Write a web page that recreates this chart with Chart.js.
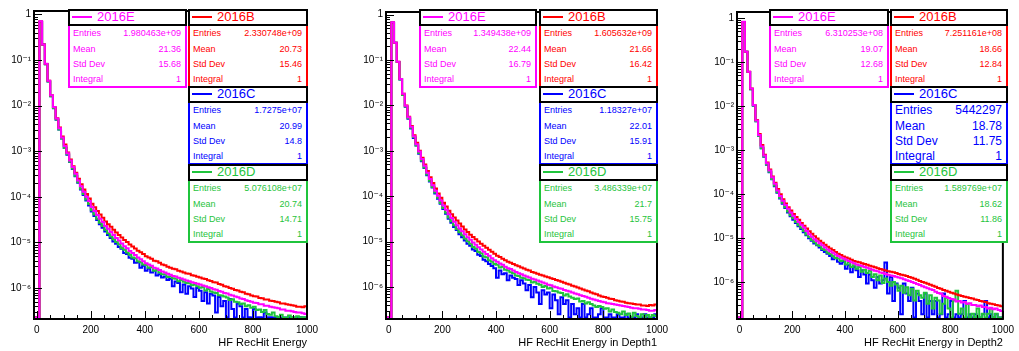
<!DOCTYPE html>
<html>
<head>
<meta charset="utf-8">
<script src="https://cdn.jsdelivr.net/npm/chart.js@4.4.1/dist/chart.umd.min.js"></script>
<style>
  html, body { margin: 0; padding: 0; background: #fff; }
  #wrap { position: relative; width: 1019px; height: 351px; overflow: hidden; font-family: "Liberation Sans", Arial, sans-serif; }
  canvas { position: absolute; top: 0; }
  .hdr, .st { position: absolute; box-sizing: border-box; background: #fff; border: 2px solid #000; }
  .hdr { z-index: 3; }
  .st { z-index: 2; }
  .hdr i { position: absolute; left: 2px; top: 5px; width: 20px; height: 2px; }
  .hdr span { position: absolute; left: 27px; top: -1px; font-size: 13px; line-height: 13px; }
  .row { position: absolute; left: 3px; right: 4px; height: 15.3px; line-height: 15.3px; font-size: 9px; white-space: nowrap; }
  .row b { float: right; font-weight: normal; }
</style>
</head>
<body>
<div id="wrap">
  <canvas id="c1" width="345" height="351" style="left:0px"></canvas>
  <canvas id="c2" width="345" height="351" style="left:345px"></canvas>
  <canvas id="c3" width="329" height="351" style="left:690px"></canvas>
</div>
<script>
// histogram binning: 101 bins of 10 from -10 to 1000
const xMin = -10, xMax = 1000, binWidth = 10;
const xTicks = [0, 200, 400, 600, 800, 1000];

// ---- HF RecHit Energy ----
const p1E = [0, 0, 0.71, 0.22, 0.083, 0.035, 0.017, 0.0093, 0.0052, 0.0032,
  0.002, 0.0013, 9.1e-4, 6.3e-4, 4.5e-4, 3.2e-4, 2.3e-4, 1.7e-4, 1.3e-4, 1.0e-4,
  8.1e-5, 6.0e-5, 4.9e-5, 4.0e-5, 3.3e-5, 2.8e-5, 2.3e-5, 2.0e-5, 1.7e-5, 1.45e-5,
  1.26e-5, 1.1e-5, 9.5e-6, 8.3e-6, 7.5e-6, 6.5e-6, 5.9e-6, 5.3e-6, 4.7e-6, 4.3e-6,
  3.9e-6, 3.5e-6, 3.3e-6, 3.1e-6, 2.8e-6, 2.7e-6, 2.5e-6, 2.3e-6, 2.2e-6, 2.05e-6,
  1.95e-6, 1.85e-6, 1.8e-6, 1.68e-6, 1.62e-6, 1.55e-6, 1.46e-6, 1.42e-6, 1.34e-6, 1.3e-6,
  1.24e-6, 1.2e-6, 1.14e-6, 1.1e-6, 1.04e-6, 1.0e-6, 9.4e-7, 9.2e-7, 8.6e-7, 8.3e-7,
  7.8e-7, 7.6e-7, 7.1e-7, 6.9e-7, 6.5e-7, 6.3e-7, 5.9e-7, 5.8e-7, 5.4e-7, 5.2e-7,
  5.0e-7, 4.8e-7, 4.7e-7, 4.4e-7, 4.4e-7, 4.1e-7, 4.1e-7, 3.9e-7, 3.8e-7, 3.7e-7,
  3.6e-7, 3.4e-7, 3.4e-7, 3.2e-7, 3.2e-7, 3.1e-7, 3.0e-7, 2.9e-7, 2.9e-7, 2.8e-7,
  2.7e-7];
const p1B = [0, 0, 0.70, 0.22, 0.082, 0.035, 0.017, 0.0094, 0.0053, 0.0033,
  0.0021, 0.0014, 9.4e-4, 6.6e-4, 4.7e-4, 3.4e-4, 2.5e-4, 1.9e-4, 1.45e-4, 1.15e-4,
  9.2e-5, 7.1e-5, 5.9e-5, 4.9e-5, 4.1e-5, 3.5e-5, 2.9e-5, 2.5e-5, 2.2e-5, 1.9e-5,
  1.65e-5, 1.45e-5, 1.28e-5, 1.13e-5, 1.02e-5, 9.0e-6, 8.2e-6, 7.4e-6, 6.6e-6, 6.1e-6,
  5.6e-6, 5.0e-6, 4.7e-6, 4.4e-6, 4.0e-6, 3.9e-6, 3.6e-6, 3.3e-6, 3.15e-6, 2.95e-6,
  2.8e-6, 2.65e-6, 2.6e-6, 2.4e-6, 2.3e-6, 2.2e-6, 2.1e-6, 2.05e-6, 1.92e-6, 1.86e-6,
  1.78e-6, 1.7e-6, 1.62e-6, 1.58e-6, 1.48e-6, 1.43e-6, 1.35e-6, 1.32e-6, 1.23e-6, 1.19e-6,
  1.1e-6, 1.07e-6, 1.0e-6, 9.7e-7, 9.1e-7, 8.8e-7, 8.3e-7, 8.1e-7, 7.5e-7, 7.3e-7,
  6.9e-7, 6.6e-7, 6.5e-7, 6.1e-7, 6.0e-7, 5.6e-7, 5.6e-7, 5.3e-7, 5.2e-7, 5.0e-7,
  4.9e-7, 4.6e-7, 4.6e-7, 4.4e-7, 4.3e-7, 4.2e-7, 4.1e-7, 3.9e-7, 3.9e-7, 3.8e-7,
  4.0e-7];
const p1C = [0, 0, 0.69, 0.22, 0.081, 0.034, 0.016, 0.0088, 0.0049, 0.003,
  0.0019, 0.0012, 8.4e-4, 5.8e-4, 4.1e-4, 2.85e-4, 2.05e-4, 1.45e-4, 1.1e-4, 8.3e-5,
  6.5e-5, 4.8e-5, 3.8e-5, 3.1e-5, 2.5e-5, 2.1e-5, 1.75e-5, 1.45e-5, 1.25e-5, 1.05e-5,
  9.4e-6, 8.0e-6, 7.3e-6, 5.9e-6, 5.6e-6, 4.6e-6, 4.4e-6, 3.6e-6, 3.7e-6, 2.8e-6,
  3.1e-6, 2.4e-6, 2.7e-6, 2.2e-6, 2.4e-6, 1.9e-6, 2.0e-6, 1.7e-6, 1.8e-6, 1.5e-6,
  1.6e-6, 1.1e-6, 1.4e-6, 1.3e-6, 8.1e-7, 1.2e-6, 7.5e-7, 1.1e-6, 9.8e-7, 6.4e-7,
  1.0e-6, 8.7e-7, 5.2e-7, 8.1e-7, 4.6e-7, 7.5e-7, 6.9e-7, 2.9e-7, 6.4e-7, 4.0e-7,
  5.2e-7, 2.3e-7, 5.8e-7, 3.5e-7, 1.7e-7, 4.6e-7, 4.0e-7, 1.2e-7, 3.5e-7, 2.3e-7,
  1.2e-7, 3.5e-7, 1.7e-7, 2.3e-7, 5.8e-8, 2.9e-7, 1.7e-7, 2.3e-7, 1.2e-7, 1.7e-7,
  2.3e-7, 5.8e-8, 1.7e-7, 1.2e-7, 2.3e-7, 1.2e-7, 5.8e-8, 1.7e-7, 2.3e-7, 1.2e-7,
  1.7e-7];
const p1D = [0, 0, 0.69, 0.22, 0.081, 0.034, 0.016, 0.0089, 0.005, 0.003,
  0.0019, 0.0012, 8.6e-4, 5.9e-4, 4.2e-4, 2.9e-4, 2.1e-4, 1.5e-4, 1.15e-4, 8.8e-5,
  7.0e-5, 5.1e-5, 4.1e-5, 3.3e-5, 2.7e-5, 2.3e-5, 1.9e-5, 1.6e-5, 1.35e-5, 1.17e-5,
  1.02e-5, 9.2e-6, 7.6e-6, 6.9e-6, 6.0e-6, 5.4e-6, 4.7e-6, 4.5e-6, 3.9e-6, 3.7e-6,
  3.3e-6, 3.2e-6, 2.8e-6, 2.9e-6, 2.4e-6, 2.5e-6, 2.2e-6, 2.0e-6, 2.0e-6, 1.75e-6,
  1.8e-6, 1.65e-6, 1.6e-6, 1.42e-6, 1.5e-6, 1.38e-6, 1.3e-6, 1.28e-6, 1.15e-6, 1.2e-6,
  1.1e-6, 1.02e-6, 1.05e-6, 8.8e-7, 9.6e-7, 8.4e-7, 8.0e-7, 7.8e-7, 7.0e-7, 6.9e-7,
  6.5e-7, 6.2e-7, 5.5e-7, 5.7e-7, 5.0e-7, 4.9e-7, 4.4e-7, 4.6e-7, 4.0e-7, 4.2e-7,
  3.7e-7, 3.9e-7, 3.3e-7, 3.4e-7, 3.0e-7, 3.3e-7, 2.7e-7, 2.6e-7, 2.9e-7, 2.4e-7,
  2.3e-7, 2.6e-7, 2.2e-7, 2.1e-7, 2.5e-7, 2.3e-7, 2.0e-7, 2.4e-7, 2.2e-7, 2.3e-7,
  2.2e-7];

// ---- HF RecHit Energy in Depth1 ----
const p2E = [0, 0, 0.68, 0.24, 0.092, 0.038, 0.018, 0.0098, 0.0055, 0.0034,
  0.0021, 0.0014, 9.6e-4, 6.6e-4, 4.7e-4, 3.3e-4, 2.4e-4, 1.75e-4, 1.32e-4, 1.02e-4,
  8.0e-5, 6.2e-5, 5.0e-5, 4.0e-5, 3.3e-5, 2.75e-5, 2.3e-5, 1.95e-5, 1.68e-5, 1.45e-5,
  1.25e-5, 1.1e-5, 9.6e-6, 8.5e-6, 7.5e-6, 6.7e-6, 6.0e-6, 5.3e-6, 4.9e-6, 4.3e-6,
  3.9e-6, 3.6e-6, 3.3e-6, 3.1e-6, 2.8e-6, 2.6e-6, 2.5e-6, 2.3e-6, 2.15e-6, 2.0e-6,
  1.9e-6, 1.8e-6, 1.7e-6, 1.62e-6, 1.52e-6, 1.46e-6, 1.38e-6, 1.32e-6, 1.25e-6, 1.2e-6,
  1.12e-6, 1.09e-6, 1.03e-6, 9.9e-7, 9.4e-7, 9.1e-7, 8.6e-7, 8.3e-7, 7.9e-7, 7.6e-7,
  7.2e-7, 6.9e-7, 6.6e-7, 6.3e-7, 6.1e-7, 5.8e-7, 5.5e-7, 5.3e-7, 5.1e-7, 4.9e-7,
  4.7e-7, 4.6e-7, 4.4e-7, 4.3e-7, 4.2e-7, 4.1e-7, 4.0e-7, 3.9e-7, 3.8e-7, 3.7e-7,
  3.6e-7, 3.5e-7, 3.4e-7, 3.4e-7, 3.3e-7, 3.2e-7, 3.2e-7, 3.1e-7, 3.0e-7, 3.0e-7,
  3.1e-7];
const p2B = [0, 0, 0.67, 0.24, 0.091, 0.038, 0.018, 0.0099, 0.0056, 0.0035,
  0.0022, 0.0015, 0.001, 7.0e-4, 5.0e-4, 3.6e-4, 2.6e-4, 1.95e-4, 1.48e-4, 1.15e-4,
  9.2e-5, 7.2e-5, 5.9e-5, 4.8e-5, 4.0e-5, 3.4e-5, 2.9e-5, 2.5e-5, 2.15e-5, 1.85e-5,
  1.62e-5, 1.42e-5, 1.26e-5, 1.12e-5, 1.0e-5, 9.0e-6, 8.1e-6, 7.3e-6, 6.6e-6, 6.0e-6,
  5.4e-6, 4.9e-6, 4.6e-6, 4.2e-6, 3.9e-6, 3.6e-6, 3.4e-6, 3.2e-6, 3.0e-6, 2.85e-6,
  2.7e-6, 2.55e-6, 2.4e-6, 2.3e-6, 2.15e-6, 2.05e-6, 1.95e-6, 1.85e-6, 1.78e-6, 1.7e-6,
  1.64e-6, 1.56e-6, 1.5e-6, 1.42e-6, 1.37e-6, 1.3e-6, 1.24e-6, 1.18e-6, 1.13e-6, 1.07e-6,
  1.02e-6, 9.7e-7, 9.3e-7, 8.8e-7, 8.4e-7, 8.0e-7, 7.6e-7, 7.2e-7, 6.9e-7, 6.5e-7,
  6.2e-7, 6.0e-7, 5.8e-7, 5.5e-7, 5.4e-7, 5.1e-7, 5.0e-7, 4.8e-7, 4.7e-7, 4.5e-7,
  4.4e-7, 4.3e-7, 4.2e-7, 4.1e-7, 4.1e-7, 3.9e-7, 3.9e-7, 3.8e-7, 4.0e-7, 3.9e-7,
  4.1e-7];
const p2C = [0, 0, 0.67, 0.24, 0.09, 0.037, 0.017, 0.0093, 0.0051, 0.0031,
  0.0019, 0.0013, 8.6e-4, 5.9e-4, 4.2e-4, 2.9e-4, 2.1e-4, 1.55e-4, 1.15e-4, 8.8e-5,
  6.8e-5, 5.2e-5, 4.1e-5, 3.2e-5, 2.6e-5, 2.1e-5, 1.8e-5, 1.45e-5, 1.25e-5, 1.05e-5,
  9.0e-6, 8.1e-6, 6.7e-6, 6.2e-6, 5.1e-6, 4.8e-6, 4.0e-6, 3.7e-6, 3.2e-6, 2.9e-6,
  2.6e-6, 1.6e-6, 2.3e-6, 1.9e-6, 2.0e-6, 1.4e-6, 1.8e-6, 1.6e-6, 1.5e-6, 1.1e-6,
  1.4e-6, 1.2e-6, 8.5e-7, 1.1e-6, 5.9e-7, 1.0e-6, 7.6e-7, 4.2e-7, 8.5e-7, 6.8e-7,
  7.6e-7, 3.4e-7, 6.8e-7, 5.1e-7, 2.5e-7, 5.9e-7, 4.2e-7, 5.1e-7, 1.7e-7, 4.2e-7,
  2.5e-7, 3.4e-7, 1.7e-7, 4.2e-7, 8.5e-8, 2.5e-7, 3.4e-7, 1.7e-7, 0, 2.5e-7,
  3.4e-7, 8.5e-8, 1.7e-7, 2.5e-7, 0, 1.7e-7, 2.5e-7, 8.5e-8, 1.7e-7, 2.5e-7,
  8.5e-8, 1.7e-7, 0, 2.5e-7, 1.7e-7, 8.5e-8, 2.5e-7, 1.7e-7, 0, 1.7e-7,
  2.5e-7];
const p2D = [0, 0, 0.67, 0.24, 0.09, 0.037, 0.017, 0.0094, 0.0052, 0.0032,
  0.002, 0.0013, 8.9e-4, 6.1e-4, 4.3e-4, 3.0e-4, 2.2e-4, 1.6e-4, 1.2e-4, 9.2e-5,
  7.1e-5, 5.5e-5, 4.3e-5, 3.4e-5, 2.8e-5, 2.3e-5, 1.9e-5, 1.6e-5, 1.38e-5, 1.17e-5,
  1.02e-5, 9.0e-6, 7.6e-6, 7.0e-6, 5.9e-6, 5.5e-6, 4.7e-6, 4.5e-6, 3.9e-6, 3.6e-6,
  3.2e-6, 3.1e-6, 2.7e-6, 2.8e-6, 2.4e-6, 2.3e-6, 2.1e-6, 2.0e-6, 1.8e-6, 1.75e-6,
  1.6e-6, 1.55e-6, 1.45e-6, 1.42e-6, 1.25e-6, 1.3e-6, 1.18e-6, 1.12e-6, 1.0e-6, 1.05e-6,
  9.3e-7, 9.6e-7, 8.2e-7, 8.0e-7, 7.6e-7, 7.4e-7, 6.5e-7, 6.9e-7, 6.2e-7, 5.8e-7,
  5.4e-7, 5.6e-7, 4.8e-7, 4.9e-7, 4.3e-7, 4.6e-7, 4.2e-7, 3.9e-7, 3.6e-7, 3.8e-7,
  3.6e-7, 3.3e-7, 3.4e-7, 2.9e-7, 3.2e-7, 2.8e-7, 2.7e-7, 2.5e-7, 2.9e-7, 2.4e-7,
  2.6e-7, 2.2e-7, 2.7e-7, 2.3e-7, 2.0e-7, 2.5e-7, 2.2e-7, 2.4e-7, 2.1e-7, 2.4e-7,
  2.3e-7];

// ---- HF RecHit Energy in Depth2 ----
const p3E = [0, 0, 0.82, 0.17, 0.06, 0.025, 0.0105, 0.0047, 0.0022, 0.0012,
  7.5e-4, 5.0e-4, 3.4e-4, 2.4e-4, 1.7e-4, 1.2e-4, 9.0e-5, 7.0e-5, 5.6e-5, 4.6e-5,
  3.8e-5, 3.2e-5, 2.7e-5, 2.3e-5, 2.0e-5, 1.72e-5, 1.45e-5, 1.22e-5, 1.06e-5, 9.3e-6,
  8.4e-6, 7.6e-6, 6.8e-6, 6.1e-6, 5.5e-6, 5.0e-6, 4.6e-6, 4.2e-6, 3.9e-6, 3.6e-6,
  3.4e-6, 3.2e-6, 3.0e-6, 2.8e-6, 2.65e-6, 2.5e-6, 2.4e-6, 2.3e-6, 2.2e-6, 2.1e-6,
  2.0e-6, 1.9e-6, 1.8e-6, 1.75e-6, 1.65e-6, 1.6e-6, 1.52e-6, 1.45e-6, 1.4e-6, 1.36e-6,
  1.32e-6, 1.27e-6, 1.22e-6, 1.16e-6, 1.1e-6, 1.05e-6, 1.0e-6, 9.5e-7, 9.0e-7, 8.5e-7,
  8.0e-7, 7.6e-7, 7.2e-7, 6.8e-7, 6.6e-7, 6.0e-7, 5.6e-7, 5.4e-7, 4.8e-7, 4.6e-7,
  4.3e-7, 4.1e-7, 4.0e-7, 3.6e-7, 3.7e-7, 3.4e-7, 3.5e-7, 3.2e-7, 3.3e-7, 3.0e-7,
  3.0e-7, 2.8e-7, 2.9e-7, 2.7e-7, 2.7e-7, 2.5e-7, 2.6e-7, 2.4e-7, 2.5e-7, 2.3e-7,
  2.2e-7];
const p3B = [0, 0, 0.81, 0.17, 0.06, 0.025, 0.0106, 0.0048, 0.0023, 0.0013,
  7.8e-4, 5.2e-4, 3.6e-4, 2.5e-4, 1.8e-4, 1.3e-4, 9.8e-5, 7.6e-5, 6.1e-5, 5.0e-5,
  4.2e-5, 3.5e-5, 3.0e-5, 2.6e-5, 2.2e-5, 1.9e-5, 1.65e-5, 1.43e-5, 1.25e-5, 1.1e-5,
  9.7e-6, 8.7e-6, 7.8e-6, 7.0e-6, 6.3e-6, 5.8e-6, 5.3e-6, 4.8e-6, 4.4e-6, 4.1e-6,
  3.8e-6, 3.6e-6, 3.4e-6, 3.2e-6, 3.0e-6, 2.9e-6, 2.8e-6, 2.65e-6, 2.55e-6, 2.45e-6,
  2.35e-6, 2.25e-6, 2.15e-6, 2.05e-6, 1.98e-6, 1.9e-6, 1.82e-6, 1.75e-6, 1.7e-6, 1.66e-6,
  1.6e-6, 1.52e-6, 1.46e-6, 1.42e-6, 1.36e-6, 1.3e-6, 1.24e-6, 1.18e-6, 1.12e-6, 1.05e-6,
  1.0e-6, 9.6e-7, 9.1e-7, 8.6e-7, 8.2e-7, 7.8e-7, 7.3e-7, 7.0e-7, 6.6e-7, 6.3e-7,
  6.0e-7, 5.7e-7, 5.5e-7, 5.2e-7, 5.0e-7, 4.8e-7, 4.6e-7, 4.5e-7, 4.3e-7, 4.2e-7,
  4.0e-7, 3.9e-7, 3.7e-7, 3.6e-7, 3.5e-7, 3.3e-7, 3.2e-7, 3.1e-7, 3.0e-7, 2.9e-7,
  2.8e-7];
const p3C = [0, 0, 0.81, 0.17, 0.059, 0.024, 0.0101, 0.0045, 0.0021, 0.0011,
  7.0e-4, 4.6e-4, 3.1e-4, 2.15e-4, 1.5e-4, 1.07e-4, 7.9e-5, 6.0e-5, 4.8e-5, 3.8e-5,
  3.1e-5, 2.6e-5, 2.2e-5, 1.85e-5, 1.6e-5, 1.35e-5, 1.15e-5, 9.9e-6, 8.6e-6, 7.5e-6,
  6.8e-6, 6.1e-6, 5.3e-6, 4.8e-6, 4.4e-6, 3.9e-6, 3.3e-6, 3.5e-6, 2.9e-6, 2.6e-6,
  2.9e-6, 2.0e-6, 2.4e-6, 1.66e-6, 2.2e-6, 1.84e-6, 1.29e-6, 1.84e-6, 1.47e-6, 9.2e-7,
  1.47e-6, 1.1e-6, 7.4e-7, 1.29e-6, 9.2e-7, 1.1e-6, 2.76e-6, 5.5e-7, 1.29e-6, 3.7e-7,
  9.2e-7, 7.4e-7, 1.84e-7, 9.2e-7, 5.5e-7, 3.7e-7, 7.4e-7, 0, 5.5e-7, 3.7e-7,
  1.84e-7, 5.5e-7, 0, 3.7e-7, 1.84e-7, 3.7e-7, 0, 1.84e-7, 5.5e-7, 0,
  1.84e-7, 3.7e-7, 0, 1.84e-7, 0, 1.84e-7, 3.7e-7, 0, 1.84e-7, 0,
  1.84e-7, 0, 0, 1.84e-7, 3.7e-7, 0, 1.84e-7, 0, 1.84e-7, 0,
  0];
const p3D = [0, 0, 0.81, 0.17, 0.059, 0.024, 0.0102, 0.0045, 0.0021, 0.0011,
  7.1e-4, 4.7e-4, 3.2e-4, 2.2e-4, 1.55e-4, 1.1e-4, 8.2e-5, 6.3e-5, 5.0e-5, 4.0e-5,
  3.3e-5, 2.8e-5, 2.3e-5, 1.95e-5, 1.7e-5, 1.45e-5, 1.2e-5, 1.05e-5, 9.0e-6, 8.0e-6,
  7.0e-6, 6.6e-6, 5.6e-6, 5.3e-6, 4.6e-6, 4.3e-6, 3.9e-6, 3.5e-6, 3.4e-6, 3.0e-6,
  3.1e-6, 2.5e-6, 2.8e-6, 2.2e-6, 2.4e-6, 2.0e-6, 2.2e-6, 1.7e-6, 1.9e-6, 1.6e-6,
  1.8e-6, 1.3e-6, 1.5e-6, 1.1e-6, 1.4e-6, 9.5e-7, 1.2e-6, 1.0e-6, 8.2e-7, 1.0e-6,
  8.8e-7, 6.3e-7, 8.2e-7, 5.7e-7, 7.6e-7, 5.0e-7, 7.0e-7, 3.8e-7, 6.3e-7, 5.0e-7,
  4.4e-7, 5.7e-7, 3.2e-7, 5.0e-7, 2.5e-7, 4.4e-7, 3.8e-7, 1.9e-7, 3.2e-7, 4.4e-7,
  2.5e-7, 1.3e-7, 3.8e-7, 6.3e-7, 1.9e-7, 2.5e-7, 6.3e-8, 3.2e-7, 1.3e-7, 1.9e-7,
  6.3e-8, 2.5e-7, 1.3e-7, 1.9e-7, 6.3e-8, 1.9e-7, 2.5e-7, 1.3e-7, 1.9e-7, 6.3e-8,
  1.3e-7];

// stats boxes
const statLabels = ['Entries', 'Mean', 'Std Dev', 'Integral'];
const p1StatE = ['1.980463e+09', '21.36', '15.68', '1'];
const p1StatB = ['2.330748e+09', '20.73', '15.46', '1'];
const p1StatC = ['1.7275e+07', '20.99', '14.8', '1'];
const p1StatD = ['5.076108e+07', '20.74', '14.71', '1'];
const p2StatE = ['1.349438e+09', '22.44', '16.79', '1'];
const p2StatB = ['1.605632e+09', '21.66', '16.42', '1'];
const p2StatC = ['1.18327e+07', '22.01', '15.91', '1'];
const p2StatD = ['3.486339e+07', '21.7', '15.75', '1'];
const p3StatE = ['6.310253e+08', '19.07', '12.68', '1'];
const p3StatB = ['7.251161e+08', '18.66', '12.84', '1'];
const p3StatC = ['5442297', '18.78', '11.75', '1'];
const p3StatD = ['1.589769e+07', '18.62', '11.86', '1'];

const colE = '#ff00ff', colB = '#ff0000', colC = '#0000ff', colD = '#1fc43c';

const panels = [
  { id: 'c1', w: 345, left: 34, right: 307, top: 11, bottom: 319, yMin: 2.1e-7, yMax: 1.19,
    title: 'HF RecHit Energy', E: p1E, B: p1B, C: p1C, D: p1D,
    stats: [p1StatE, p1StatB, p1StatC, p1StatD], ex: 68, ew: 119, bx: 188, bw: 120 },
  { id: 'c2', w: 345, left: 41, right: 312, top: 12, bottom: 319, yMin: 1.97e-7, yMax: 1.14,
    title: 'HF RecHit Energy in Depth1', E: p2E, B: p2B, C: p2C, D: p2D,
    stats: [p2StatE, p2StatB, p2StatC, p2StatD], ex: 419, ew: 118, bx: 539, bw: 119 },
  { id: 'c3', w: 329, left: 47, right: 317, top: 12, bottom: 319, yMin: 1.44e-7, yMax: 1.37,
    title: 'HF RecHit Energy in Depth2', E: p3E, B: p3B, C: p3C, D: p3D,
    stats: [p3StatE, p3StatB, p3StatC, p3StatD], ex: 769, ew: 120, bx: 890, bw: 118, bigC: true }
];

const supMap = { '-': '\u207B', '0': '\u2070', '1': '\u00B9', '2': '\u00B2', '3': '\u00B3',
  '4': '\u2074', '5': '\u2075', '6': '\u2076', '7': '\u2077', '8': '\u2078', '9': '\u2079' };
const sup = (n) => String(n).split('').map(c => supMap[c]).join('');

// histogram -> step points (bins below the frame sit on its bottom edge, as ROOT does)
function histPoints(vals, floor) {
  const pts = vals.map((v, i) => ({ x: xMin + i * binWidth, y: Math.max(v, floor) }));
  pts.push({ x: xMax, y: Math.max(vals[vals.length - 1], floor) });
  return pts;
}

// ROOT-like frame with inward ticks
const frameTicks = {
  id: 'frameTicks',
  afterDatasetsDraw(chart) {
    const { ctx, chartArea: a, scales: { x, y } } = chart;
    ctx.save();
    ctx.strokeStyle = '#000';
    ctx.lineWidth = 1;
    ctx.beginPath();
    for (let k = -7; k <= 0; k++) {
      for (let m = 1; m <= 9; m++) {
        const v = m * Math.pow(10, k);
        if (v < y.min || v > y.max) continue;
        const py = Math.round(y.getPixelForValue(v)) + 0.5;
        ctx.moveTo(a.left, py);
        ctx.lineTo(a.left + (m === 1 ? 8 : 4), py);
      }
    }
    for (let t = 0; t <= 1000; t += 50) {
      const px = Math.round(x.getPixelForValue(t)) + 0.5;
      ctx.moveTo(px, a.bottom);
      ctx.lineTo(px, a.bottom - (t % 200 === 0 ? 8 : 4));
    }
    ctx.stroke();
    ctx.lineWidth = 2;
    ctx.strokeRect(a.left, a.top, a.right - a.left, a.bottom - a.top);
    ctx.restore();
  }
};

Chart.defaults.font.family = '"Liberation Sans", "DejaVu Sans", sans-serif';
Chart.defaults.color = '#000';

const wrap = document.getElementById('wrap');

function headerBox(x, y, w, color, name) {
  const d = document.createElement('div');
  d.className = 'hdr';
  Object.assign(d.style, { left: x + 'px', top: y + 'px', width: w + 'px', height: '17px' });
  d.innerHTML = '<i style="background:' + color + '"></i><span style="color:' + color + '">' + name + '</span>';
  wrap.appendChild(d);
}

function statBox(x, y, w, color, values, big) {
  const d = document.createElement('div');
  d.className = 'st';
  Object.assign(d.style, { left: x + 'px', top: y + 'px', width: w + 'px', height: '64px', borderColor: color, color: color });
  statLabels.forEach((lab, i) => {
    const r = document.createElement('div');
    r.className = 'row';
    r.style.top = (0.4 + i * 15.3) + 'px';
    if (big) r.style.fontSize = '12px';
    r.innerHTML = lab + '<b>' + values[i] + '</b>';
    d.appendChild(r);
  });
  wrap.appendChild(d);
}

panels.forEach(p => {
  const floor = p.yMin * 1.08;
  const series = [
    { name: '2016E', color: colE, vals: p.E },
    { name: '2016B', color: colB, vals: p.B },
    { name: '2016D', color: colD, vals: p.D },
    { name: '2016C', color: colC, vals: p.C }
  ];
  new Chart(document.getElementById(p.id), {
    type: 'line',
    data: {
      datasets: series.map(s => ({
        label: s.name,
        data: histPoints(s.vals, floor),
        borderColor: s.color,
        borderWidth: 2,
        pointRadius: 0,
        stepped: 'before',
        fill: false,
        clip: 0
      }))
    },
    options: {
      responsive: false,
      animation: false,
      devicePixelRatio: 1,
      layout: { padding: { left: 0, right: p.w - p.right, top: p.top, bottom: 0 } },
      plugins: { legend: { display: false }, tooltip: { enabled: false } },
      scales: {
        x: {
          type: 'linear', min: xMin, max: xMax,
          afterFit: s => { s.height = 351 - p.bottom; },
          afterBuildTicks: s => { s.ticks = xTicks.map(v => ({ value: v })); },
          grid: { display: false, drawTicks: false },
          border: { display: false },
          ticks: {
            autoSkip: false, maxRotation: 0, padding: 5,
            font: { size: 10 },
            callback: v => String(v)
          },
          title: { display: true, text: p.title, align: 'end', font: { size: 11 }, padding: { top: 0, bottom: 1.5 } }
        },
        y: {
          type: 'logarithmic', min: p.yMin, max: p.yMax,
          afterFit: s => { s.width = p.left; },
          grid: { display: false, drawTicks: false },
          border: { display: false },
          ticks: {
            autoSkip: false, padding: 3, font: { size: 10 },
            callback: v => {
              const e = Math.log10(v);
              const r = Math.round(e);
              if (Math.abs(e - r) > 1e-6) return '';
              return r === 0 ? '1' : '10' + sup(r);
            }
          }
        }
      }
    },
    plugins: [frameTicks]
  });

  // stat boxes: 2016E | 2016B, then 2016C and 2016D stacked on the right
  statBox(p.ex, 24, p.ew, colE, p.stats[0], false);
  headerBox(p.ex, 9, p.ew, colE, '2016E');
  statBox(p.bx, 24, p.bw, colB, p.stats[1], false);
  headerBox(p.bx, 9, p.bw, colB, '2016B');
  statBox(p.bx, 101, p.bw, colC, p.stats[2], !!p.bigC);
  headerBox(p.bx, 86, p.bw, colC, '2016C');
  statBox(p.bx, 179, p.bw, colD, p.stats[3], false);
  headerBox(p.bx, 164, p.bw, colD, '2016D');
});
</script>
</body>
</html>
